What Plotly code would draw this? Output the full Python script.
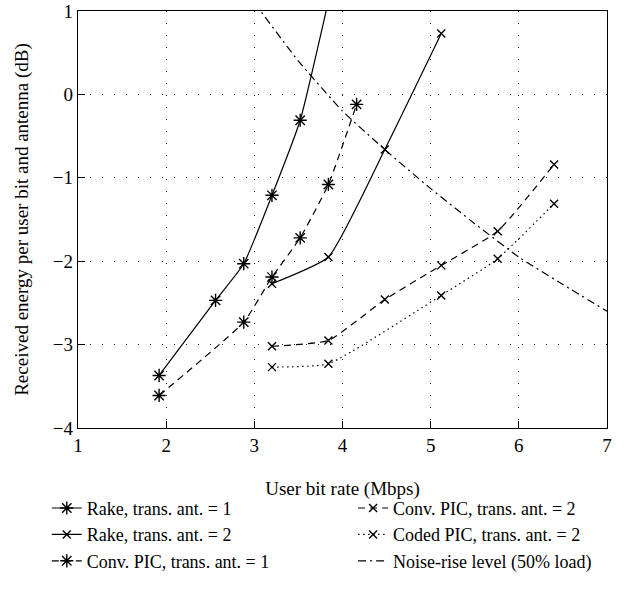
import plotly.graph_objects as go

# ---- data ----
rake1_x = [1.92, 2.56, 2.88, 3.20, 3.52, 3.84]
rake1_y = [-3.37, -2.47, -2.03, -1.21, -0.31, 1.12]

rake2_x = [3.20, 3.84, 4.48, 5.12]
rake2_y = [-2.27, -1.95, -0.66, 0.73]

conv1_x = [1.92, 2.88, 3.20, 3.52, 3.84, 4.16]
conv1_y = [-3.61, -2.73, -2.19, -1.72, -1.08, -0.12]

conv2_x = [3.20, 3.84, 4.48, 5.12, 5.76, 6.40]
conv2_y = [-3.02, -2.95, -2.46, -2.05, -1.64, -0.84]

coded_x = [3.20, 3.84, 5.12, 5.76, 6.40]
coded_y = [-3.27, -3.23, -2.41, -1.97, -1.31]

noise_x = [3.0, 3.5, 4.0, 4.5, 5.0, 5.5, 6.0, 6.5, 7.0]
noise_y = [1.10, 0.40, -0.20, -0.68, -1.13, -1.55, -1.95, -2.28, -2.60]

x_ticks = [1, 2, 3, 4, 5, 6, 7]
y_ticks = [-4, -3, -2, -1, 0, 1]
y_ticktext = ["\u22124", "\u22123", "\u22122", "\u22121", "0", "1"]

FONT = "Liberation Serif"
FS = 19
LFS = 18
BLACK = "black"

fig = go.Figure()

def add(x, y, name, dash, symbol, msize, legend):
    fig.add_trace(go.Scatter(
        x=x, y=y, name=name, legend=legend,
        mode="lines+markers" if symbol else "lines",
        line=dict(color=BLACK, width=1.2, dash=dash, shape="spline", smoothing=0.45),
        marker=dict(symbol=symbol, size=msize, color=BLACK,
                    line=dict(color=BLACK, width=1.4)) if symbol else None,
        cliponaxis=True,
    ))

add(rake1_x, rake1_y, "Rake, trans. ant. = 1", "solid", "asterisk-open", 11, "legend")
add(rake2_x, rake2_y, "Rake, trans. ant. = 2", "solid", "x-thin-open", 8, "legend")
add(conv1_x, conv1_y, "Conv. PIC, trans. ant. = 1", "7px,5px", "asterisk-open", 11, "legend")
add(conv2_x, conv2_y, "Conv. PIC, trans. ant. = 2", "7px,5px", "x-thin-open", 8, "legend2")
add(coded_x, coded_y, "Coded PIC, trans. ant. = 2", "1.5px,3.5px", "x-thin-open", 8, "legend2")
add(noise_x, noise_y, "Noise-rise level (50% load)", "8px,4px,2px,4px", None, 0, "legend2")

axis_common = dict(
    showline=True, linecolor=BLACK, linewidth=1.4, mirror=True,
    ticks="inside", ticklen=7, tickwidth=1, tickcolor=BLACK,
    showgrid=True, gridcolor="#222", gridwidth=1, griddash="1px,11px",
    zeroline=False, automargin=False,
    tickfont=dict(family=FONT, size=FS, color=BLACK),
)

fig.update_xaxes(
    range=[1, 7], tickvals=x_ticks,
    title=dict(text="User bit rate (Mbps)", font=dict(family=FONT, size=FS, color=BLACK), standoff=26),
    **axis_common,
)
fig.update_yaxes(
    range=[-4, 1], tickvals=y_ticks, ticktext=y_ticktext,
    title=dict(text="Received energy per user bit and antenna (dB)",
               font=dict(family=FONT, size=FS, color=BLACK), standoff=19),
    **axis_common,
)

legend_common = dict(
    font=dict(family=FONT, size=LFS, color=BLACK),
    bgcolor="rgba(0,0,0,0)", borderwidth=0,
    orientation="v", xanchor="left", yanchor="bottom",
    itemwidth=30, tracegroupgap=0,
)

fig.update_layout(
    width=634, height=592,
    margin=dict(l=78, r=27, t=11, b=164),
    plot_bgcolor="white", paper_bgcolor="white",
    showlegend=True,
    legend=dict(x=-0.059, y=-0.364, **legend_common),
    legend2=dict(x=0.52, y=-0.364, **legend_common),
    font=dict(family=FONT, size=FS, color=BLACK),
)

fig.write_html("out.html")
